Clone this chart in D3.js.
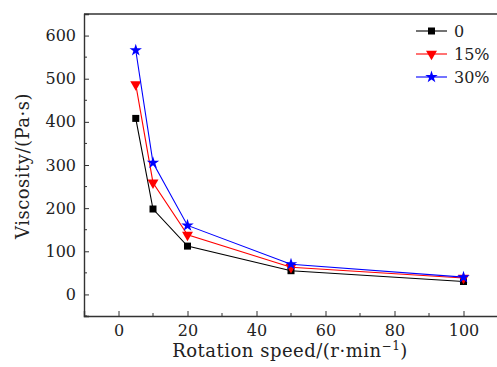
<!DOCTYPE html>
<html>
<head>
<meta charset="utf-8">
<script src="https://cdn.jsdelivr.net/npm/d3@7"></script>
<style>
  body { margin: 0; background: #fff; }
  text { font-family: "DejaVu Serif", "Liberation Serif", serif; fill: #222; }
</style>
</head>
<body>
<div id="chart"></div>
<script>
const speeds = [5, 10, 20, 50, 100];
const seriesNames = ["0", "15%", "30%"];
const visc0 = [408, 198, 112, 55, 30];
const visc15 = [487, 259, 138, 63, 38];
const visc30 = [566, 305, 160, 70, 40];
const xTicks = [0, 20, 40, 60, 80, 100];
const yTicks = [0, 100, 200, 300, 400, 500, 600];

const width = 497, height = 367;
const margin = { top: 14, right: -1, bottom: 51, left: 84 };
const innerWidth = width - margin.left - margin.right;
const innerHeight = height - margin.top - margin.bottom;
const serif = '"DejaVu Serif", "Liberation Serif", serif';

const svg = d3.select("#chart").append("svg")
    .attr("width", width).attr("height", height);
const g = svg.append("g").attr("transform", `translate(${margin.left},${margin.top})`);

const x = d3.scaleLinear().domain([-10, 110]).range([0, innerWidth]);
const y = d3.scaleLinear().domain([-50, 650]).range([innerHeight, 0]);

// series table built from the arrays above
const series = [
    { name: seriesNames[0], values: visc0, color: "#000000", symbol: d3.symbolSquare, size: 49, rot: 0 },
    { name: seriesNames[1], values: visc15, color: "#ff0000", symbol: d3.symbolTriangle, size: 52, rot: 180 },
    { name: seriesNames[2], values: visc30, color: "#0000ff", symbol: d3.symbolStar, size: 48, rot: 0 }
];

const line = d3.line().x(d => x(d[0])).y(d => y(d[1]));

series.forEach(s => {
    const pts = speeds.map((v, i) => [v, s.values[i]]);
    g.append("path").datum(pts)
        .attr("d", line)
        .attr("fill", "none")
        .attr("stroke", s.color)
        .attr("stroke-width", 1.1);
    g.selectAll(null).data(pts).enter().append("path")
        .attr("d", d3.symbol().type(s.symbol).size(s.size))
        .attr("transform", d => `translate(${x(d[0])},${y(d[1])}) rotate(${s.rot})`)
        .attr("fill", s.color);
});

// axes with inward ticks
const axisColor = "#333";
const xAxis = g.append("g").attr("transform", `translate(0,${innerHeight})`)
    .call(d3.axisBottom(x).tickValues(xTicks).tickSize(-5).tickPadding(9).tickFormat(d3.format("d")));
const yAxis = g.append("g")
    .call(d3.axisLeft(y).tickValues(yTicks).tickSize(-5).tickPadding(8).tickFormat(d3.format("d")));

// minor ticks
g.append("g").selectAll("line").data(d3.range(10, 110, 20)).enter().append("line")
    .attr("x1", d => x(d)).attr("x2", d => x(d))
    .attr("y1", innerHeight).attr("y2", innerHeight - 3)
    .attr("stroke", axisColor).attr("stroke-width", 1);
g.append("g").selectAll("line").data(d3.range(-50, 650, 100)).enter().append("line")
    .attr("x1", 0).attr("x2", 3)
    .attr("y1", d => y(d)).attr("y2", d => y(d))
    .attr("stroke", axisColor).attr("stroke-width", 1);

[xAxis, yAxis].forEach(a => {
    a.attr("font-family", serif).attr("font-size", 16);
    a.select(".domain").attr("stroke", axisColor).attr("stroke-width", 1.4);
    a.selectAll(".tick line").attr("stroke", axisColor).attr("stroke-width", 1);
    a.selectAll(".tick text").attr("fill", "#222");
});

// top border
g.append("line").attr("x1", 0).attr("x2", innerWidth).attr("y1", 0).attr("y2", 0)
    .attr("stroke", axisColor).attr("stroke-width", 1.4);

// axis titles
const xt = svg.append("text")
    .attr("x", 290).attr("y", 357)
    .attr("text-anchor", "middle")
    .style("font-size", "18px")
    .style("letter-spacing", "0.5px");
xt.append("tspan").text("Rotation speed/(r·min");
xt.append("tspan").attr("dy", -7).style("font-size", "12px").text("−1");
xt.append("tspan").attr("dy", 7).text(")");

svg.append("text")
    .attr("transform", "translate(29,166) rotate(-90)")
    .attr("text-anchor", "middle")
    .style("font-size", "18px")
    .style("letter-spacing", "0.5px")
    .text("Viscosity/(Pa·s)");

// legend
const legend = svg.append("g").attr("transform", "translate(416,31)");
series.forEach((s, i) => {
    const row = legend.append("g").attr("transform", `translate(0,${i * 23})`);
    row.append("line").attr("x1", 0).attr("x2", 31).attr("y1", 0).attr("y2", 0)
        .attr("stroke", s.color).attr("stroke-width", 1.1);
    row.append("path")
        .attr("d", d3.symbol().type(s.symbol).size(s.size))
        .attr("transform", `translate(15.5,0) rotate(${s.rot})`)
        .attr("fill", s.color);
    row.append("text").attr("x", 38).attr("y", 6)
        .style("font-size", "16px").text(s.name);
});
</script>
</body>
</html>
